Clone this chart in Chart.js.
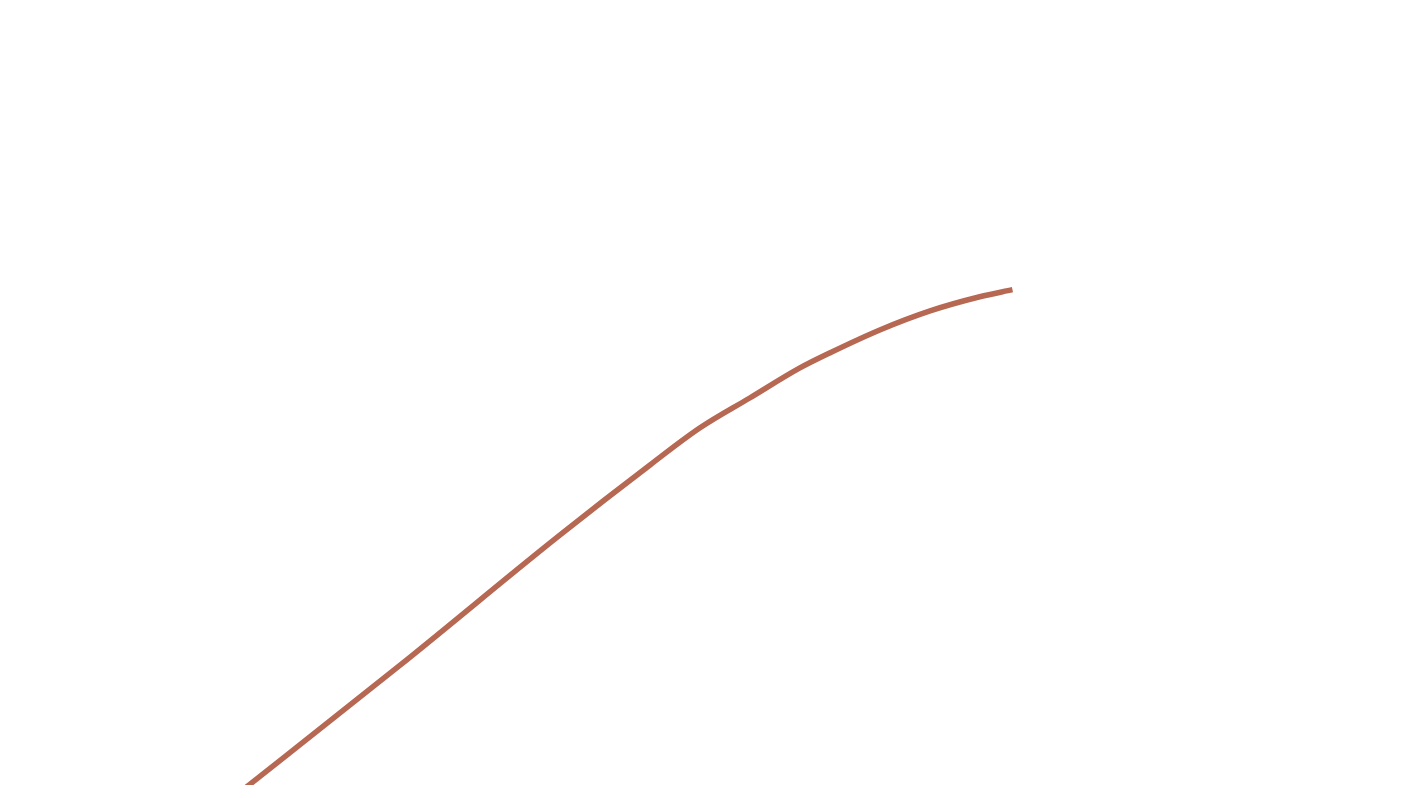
<!DOCTYPE html>
<html lang="en">
<head>
  <meta charset="UTF-8">
  <title>Chart</title>
  <style>
    html, body { margin: 0; padding: 0; background: #fff; overflow: hidden; }
    #curve { display: block; }
  </style>
</head>
<body>
  <canvas id="curve" width="1420" height="798"></canvas>

  <script src="https://cdn.jsdelivr.net/npm/chart.js@4/dist/chart.umd.min.js"></script>
  <script>
const xValues = [16.0, 28.2, 39.4, 45.8, 49.3, 52.8, 56.3, 58.5, 62.0, 65.5, 69.0, 71.3];
const yValues = [-2.2, 15.3, 31.8, 40.8, 45.5, 49.3, 53.1, 55.1, 58.0, 60.4, 62.2, 63.1];
const lineColor = "rgb(182,104,82)";

const points = xValues.map((x, i) => ({x: x, y: yValues[i]}));

new Chart("curve", {
  type: "line",
  data: {
    datasets: [{
      data: points,
      borderColor: lineColor,
      borderWidth: 5.5,
      pointRadius: 0,
      cubicInterpolationMode: "monotone",
      fill: false,
      clip: 0
    }]
  },
  options: {
    responsive: false,
    animation: false,
    layout: {padding: {left: 0, right: 0, top: 0, bottom: 13}},
    plugins: {legend: {display: false}, tooltip: {enabled: false}},
    scales: {
      x: {type: "linear", min: 0, max: 100, display: false},
      y: {min: 0, max: 100, display: false}
    }
  }
});
  </script>
</body>
</html>
